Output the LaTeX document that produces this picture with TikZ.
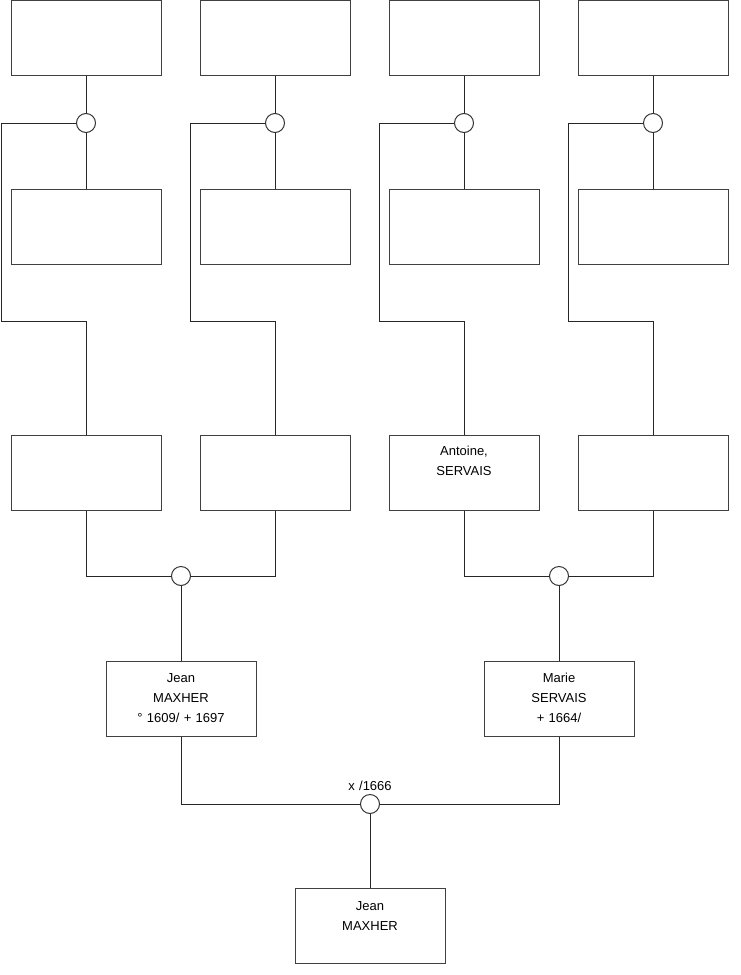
\documentclass[tikz,border=0pt]{standalone}
\usepackage{fontspec}
\setmainfont{Liberation Sans}
\begin{document}
\begin{tikzpicture}[x=1pt,y=-1pt,
  person/.style={draw=black!75, line width=1pt, minimum width=150pt, minimum height=75pt, inner sep=0},
  knot/.style={circle, draw=black!80, fill=white, line width=1pt, minimum size=19pt, inner sep=0},
  lbl/.style={font=\fontsize{13}{20}\selectfont, text width=150pt, align=center, anchor=base, inner sep=0},
  conn/.style={draw=black!85, line width=1pt}]
\useasboundingbox (0,0) rectangle (740,975);
% top row
\node[person] (t1) at (86,38) {};
\node[person] (t2) at (275,38) {};
\node[person] (t3) at (464,38) {};
\node[person] (t4) at (653,38) {};
% second row
\node[person] (s1) at (86,227) {};
\node[person] (s2) at (275,227) {};
\node[person] (s3) at (464,227) {};
\node[person] (s4) at (653,227) {};
% third row
\node[person] (r1) at (86,472.5) {};
\node[person] (r2) at (275,472.5) {};
\node[person] (r3) at (464,472.5) {};
\node[person] (r4) at (653,472.5) {};
\node[lbl] (r3t) at ([yshift=-20.5pt]r3.north) {Antoine,\\SERVAIS};
% parents
\node[person] (p1) at (181,699) {};
\node[lbl] (p1t) at ([yshift=-21pt]p1.north) {Jean\\MAXHER\\° 1609/ + 1697};
\node[person] (p2) at (559,699) {};
\node[lbl] (p2t) at ([yshift=-21pt]p2.north) {Marie\\SERVAIS\\+ 1664/};
% child
\node[person] (c) at (370,925.5) {};
\node[lbl] (ct) at ([yshift=-22.5pt]c.north) {Jean\\MAXHER};
% knots
\node[knot] (k1) at (86,123) {};
\node[knot] (k2) at (275,123) {};
\node[knot] (k3) at (464,123) {};
\node[knot] (k4) at (653,123) {};
\node[knot] (m1) at (181,576) {};
\node[knot] (m2) at (559,576) {};
\node[knot] (x) at (370,804) {};
\node[lbl] (xt) at (370,790) {x /1666};
% helper coordinates
\coordinate (a1) at (1,321);   \coordinate (b1) at (86,321);
\coordinate (a2) at (190,321); \coordinate (b2) at (275,321);
\coordinate (a3) at (379,321); \coordinate (b3) at (464,321);
\coordinate (a4) at (568,321); \coordinate (b4) at (653,321);
% connectors top
\draw[conn] (t1.south) -- (k1.north); \draw[conn] (k1.south) -- (s1.north);
\draw[conn] (t2.south) -- (k2.north); \draw[conn] (k2.south) -- (s2.north);
\draw[conn] (t3.south) -- (k3.north); \draw[conn] (k3.south) -- (s3.north);
\draw[conn] (t4.south) -- (k4.north); \draw[conn] (k4.south) -- (s4.north);
\draw[conn] (k1.west) -| (a1) -- (b1) -- (r1.north);
\draw[conn] (k2.west) -| (a2) -- (b2) -- (r2.north);
\draw[conn] (k3.west) -| (a3) -- (b3) -- (r3.north);
\draw[conn] (k4.west) -| (a4) -- (b4) -- (r4.north);
% third row to parents
\draw[conn] (r1.south) |- (m1.west);
\draw[conn] (r2.south) |- (m1.east);
\draw[conn] (r3.south) |- (m2.west);
\draw[conn] (r4.south) |- (m2.east);
\draw[conn] (m1.south) -- (p1.north);
\draw[conn] (m2.south) -- (p2.north);
% parents to child
\draw[conn] (p1.south) |- (x.west);
\draw[conn] (p2.south) |- (x.east);
\draw[conn] (x.south) -- (c.north);
\end{tikzpicture}
\end{document}
